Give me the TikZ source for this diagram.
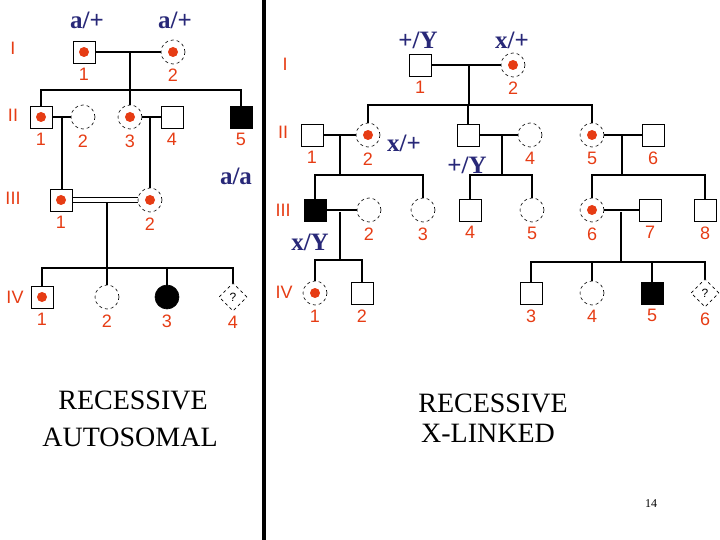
\documentclass[tikz,border=0pt]{standalone}
\usepackage{fontspec}
\setmainfont{Liberation Serif}
\newfontfamily\numfont{Liberation Sans}
\usetikzlibrary{shapes.geometric}
\definecolor{genred}{RGB}{230,60,20}
\definecolor{genblue}{RGB}{40,40,120}
\begin{document}
\begin{tikzpicture}[x=1pt,y=-1pt,line width=1.6pt,
  sq/.style={rectangle,draw,line width=0.6pt,minimum size=22pt,inner sep=0pt},
  ci/.style={circle,draw,dashed,line width=0.6pt,minimum size=24pt,inner sep=0pt},
  di/.style={diamond,draw,dashed,line width=0.6pt,minimum size=28pt,inner sep=0pt,font=\numfont\large},
  hit/.style={fill=black},
  car/.style={path picture={\fill[genred] (path picture bounding box.center) circle (5pt);}},
  num/.style={text=genred,font=\numfont\fontsize{18}{20}\selectfont,label distance=1pt},
  gen/.style={text=genred,font=\numfont\fontsize{18}{20}\selectfont},
  geno/.style={text=genblue,font=\bfseries\fontsize{25}{27}\selectfont},
  big/.style={font=\fontsize{28}{32}\selectfont}]
  \useasboundingbox (0,0) rectangle (720,540);
  \fill (262,0) rectangle (266,540);

  % recessive autosomal
  \node[gen] (G1) at (13,48) {I};
  \node[gen] (G2) at (13,115) {II};
  \node[gen] (G3) at (13,198) {III};
  \node[gen] (G4) at (15,297) {IV};
  \node[sq,car,label={[num]below:1}] (A11) at (84,52) {};
  \node[ci,car,label={[num]below:2}] (A12) at (173,52) {};
  \node[sq,car,label={[num]below:1}] (A21) at (41,117) {};
  \node[ci,label={[num]below:2}] (A22) at (83,117) {};
  \node[ci,car,label={[num]below:3}] (A23) at (130,117) {};
  \node[sq,label={[num]below:4}] (A24) at (172,117) {};
  \node[sq,hit,label={[num]below:5}] (A25) at (241,117) {};
  \node[sq,car,label={[num]below:1}] (A31) at (61,200) {};
  \node[ci,car,label={[num]below:2}] (A32) at (150,200) {};
  \node[sq,car,label={[num]below:1}] (A41) at (42,297) {};
  \node[ci,label={[num]below:2}] (A42) at (107,297) {};
  \node[ci,hit,solid,label={[num]below:3}] (A43) at (167,297) {};
  \node[di,label={[num]below:4}] (A44) at (233,297) {?};
  \node[geno] at (87,20) {a/+};
  \node[geno] at (175,20) {a/+};
  \node[geno] at (236,176) {a/a};

  \coordinate (a1) at (130,52);
  \coordinate (a2) at (62,117);
  \coordinate (a3) at (150,117);
  \coordinate (a4) at (107,200);
  \draw (A11) -- (A12);
  \draw (a1) -- (130,90);
  \draw (A21.north) |- (130,90) -| (A25.north);
  \draw (A23) -- (130,90);
  \draw (A21) -- (A22);
  \draw (A23) -- (A24);
  \draw (a2) -- (A31.north -| a2);
  \draw (a3) -- (A32.north);
  \draw[line width=1.2pt] ([yshift=-2.5pt]A31.east) -- ([yshift=-2.5pt]A32.west);
  \draw[line width=1.2pt] ([yshift=2.5pt]A31.east) -- ([yshift=2.5pt]A32.west);
  \draw ([yshift=-2.5pt]a4) -- (107,268);
  \draw (A41.north) |- (107,268) -| (A44.north);
  \draw (A42) -- (107,268);
  \draw (A43) -- (167,268);
  \node[big] at (133,400) {RECESSIVE};
  \node[big] at (130,437) {AUTOSOMAL};

  % recessive x-linked
  \node[gen] (H1) at (285,64) {I};
  \node[gen] (H2) at (283,132) {II};
  \node[gen] (H3) at (283,210) {III};
  \node[gen] (H4) at (284,292) {IV};
  \node[sq,label={[num]below:1}] (X11) at (420,65) {};
  \node[ci,car,label={[num]below:2}] (X12) at (513,65) {};
  \node[sq,label={[num]below:1}] (X21) at (312,135) {};
  \node[ci,car,label={[num]below:2}] (X22) at (368,135) {};
  \node[sq] (X23) at (468,135) {};
  \node[ci,label={[num]below:4}] (X24) at (530,135) {};
  \node[ci,car,label={[num]below:5}] (X25) at (592,135) {};
  \node[sq,label={[num]below:6}] (X26) at (653,135) {};
  \node[sq,hit] (X31) at (315,210) {};
  \node[ci,label={[num]below:2}] (X32) at (369,210) {};
  \node[ci,label={[num]below:3}] (X33) at (423,210) {};
  \node[sq,label={[num]below:4}] (X34) at (470,210) {};
  \node[ci,label={[num]below:5}] (X35) at (532,210) {};
  \node[ci,car,label={[num]below:6}] (X36) at (592,210) {};
  \node[sq,label={[num]below:7}] (X37) at (650,210) {};
  \node[sq,label={[num]below:8}] (X38) at (705,210) {};
  \node[ci,car,label={[num]below:1}] (X41) at (315,293) {};
  \node[sq,label={[num]below:2}] (X42) at (362,293) {};
  \node[sq,label={[num]below:3}] (X43) at (531,293) {};
  \node[ci,label={[num]below:4}] (X44) at (592,293) {};
  \node[sq,hit,label={[num]below:5}] (X45) at (652,293) {};
  \node[di,label={[num]below:6}] (X46) at (705,293) {?};
  \node[geno] at (418,40) {+/Y};
  \node[geno] at (512,40) {x/+};
  \node[geno] at (404,143) {x/+};
  \node[geno] at (467,165) {+/Y};
  \node[geno] at (310,242) {x/Y};

  \draw (X11) -- (X12);
  \draw (469,65) -- (469,105);
  \draw (X22.north) |- (469,105) -| (X25.north);
  \draw (X23) -- (468,105);
  \draw (X21) -- (X22);
  \draw (X23) -- (X24);
  \draw (X25) -- (X26);
  \draw (340,135) -- (340,175);
  \draw (X31.north) |- (340,175) -| (X33.north);
  \draw (502,135) -- (502,175);
  \draw (X34.north) |- (502,175) -| (X35.north);
  \draw (622,135) -- (622,175);
  \draw (X36.north) |- (622,175) -| (X38.north);
  \draw (X31) -- (X32);
  \draw (X36) -- (X37);
  \draw (340,212) -- (340,260);
  \draw (X41.north) |- (340,260) -| (X42.north);
  \draw (621,212) -- (621,262);
  \draw (X43.north) |- (621,262) -| (X46.north);
  \draw (X44) -- (592,262);
  \draw (X45) -- (652,262);
  \node[big] at (493,403) {RECESSIVE};
  \node[big] at (488,433) {X-LINKED};
  \node[font=\large] at (651,504) {14};
\end{tikzpicture}
\end{document}
